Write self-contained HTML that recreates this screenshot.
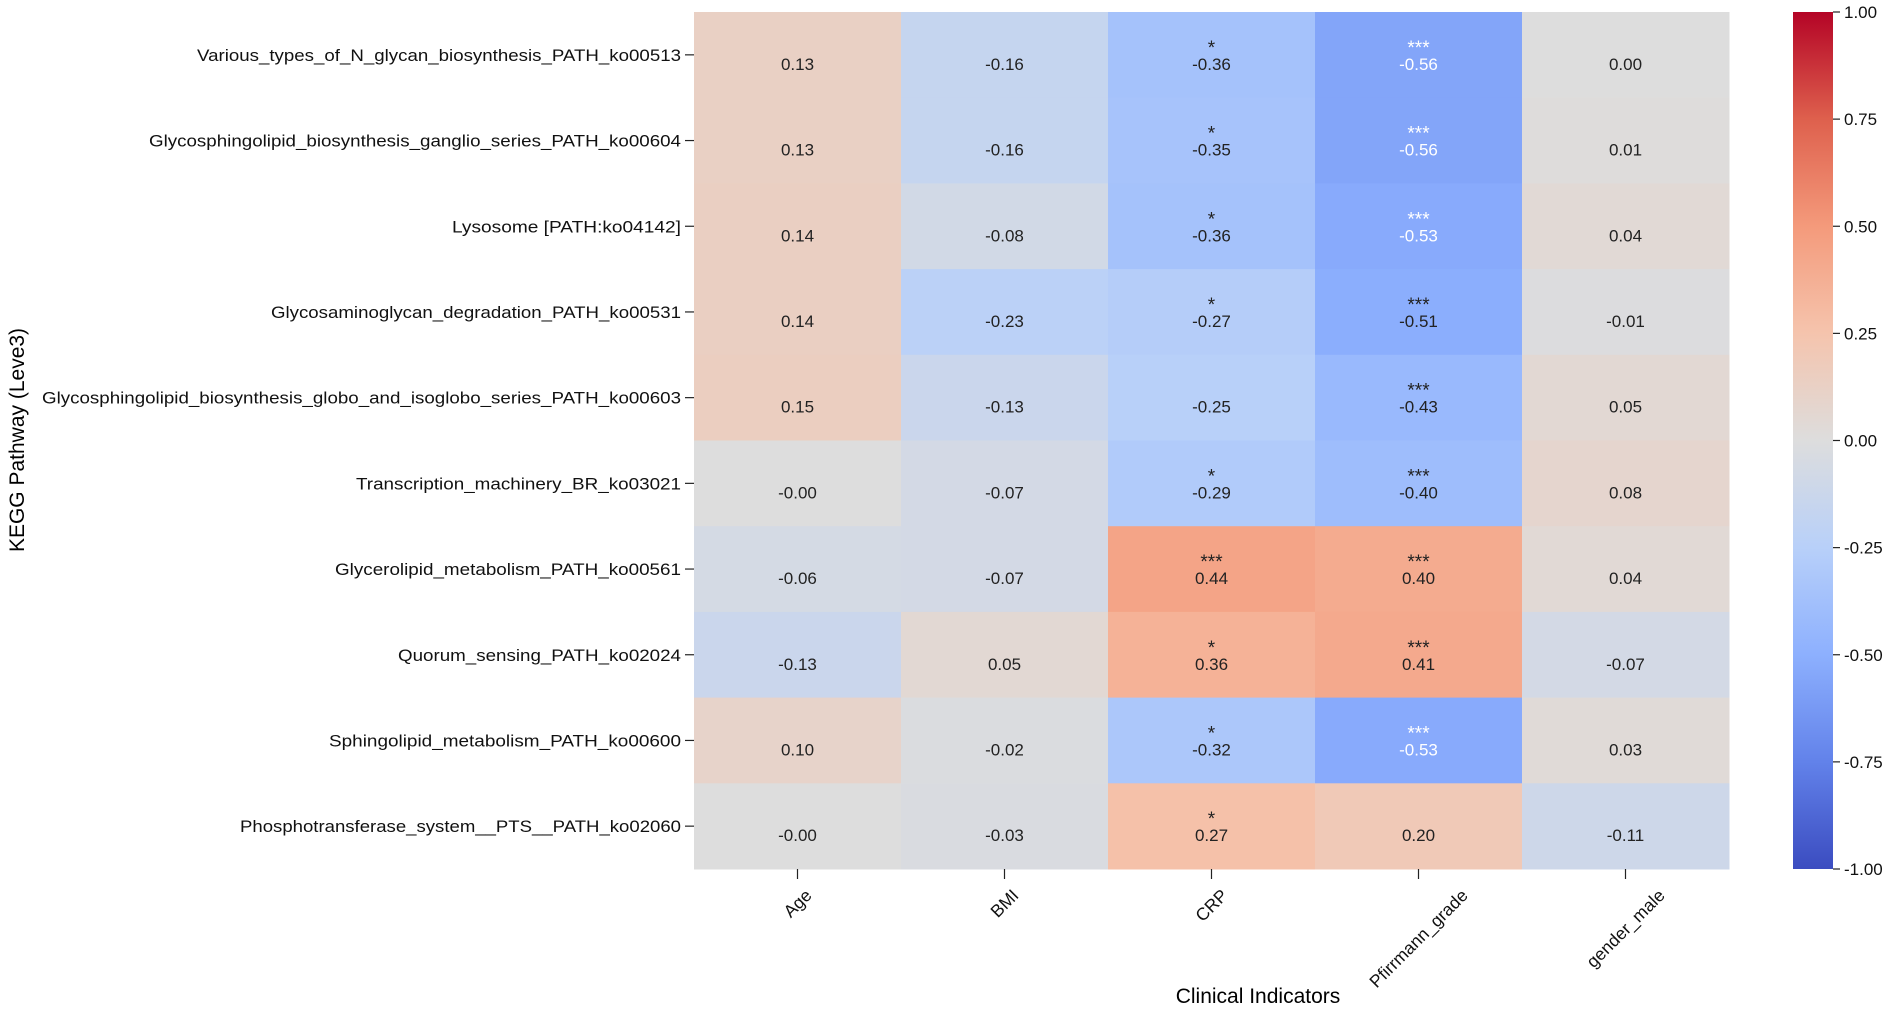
<!DOCTYPE html>
<html><head><meta charset="utf-8"><style>
html,body{margin:0;padding:0;background:#fff;}
svg{display:block;font-family:"Liberation Sans",sans-serif;}
</style></head><body>
<svg id="chart" width="1902" height="1011" viewBox="0 0 1902 1011" xmlns="http://www.w3.org/2000/svg">
<defs><linearGradient id="cbgrad" x1="0" y1="1" x2="0" y2="0">
<stop offset="0" stop-color="rgb(59,76,192)"/><stop offset="0.125" stop-color="rgb(98,130,234)"/><stop offset="0.25" stop-color="rgb(141,176,254)"/><stop offset="0.375" stop-color="rgb(184,208,249)"/><stop offset="0.5" stop-color="rgb(221,221,221)"/><stop offset="0.625" stop-color="rgb(245,196,173)"/><stop offset="0.75" stop-color="rgb(244,154,123)"/><stop offset="0.875" stop-color="rgb(222,96,77)"/><stop offset="1" stop-color="rgb(180,4,38)"/>
</linearGradient></defs>
<g id="cells"></g><g id="ylabels"></g><g id="xlabels"></g><g id="cbar"></g>
<text transform="translate(24,440) rotate(-90)" text-anchor="middle" font-size="21">KEGG Pathway (Leve3)</text>
<text x="1258" y="1003" text-anchor="middle" font-size="21">Clinical Indicators</text>
</svg>
<script>
const rowLabels = ["Various_types_of_N_glycan_biosynthesis_PATH_ko00513","Glycosphingolipid_biosynthesis_ganglio_series_PATH_ko00604","Lysosome [PATH:ko04142]","Glycosaminoglycan_degradation_PATH_ko00531","Glycosphingolipid_biosynthesis_globo_and_isoglobo_series_PATH_ko00603","Transcription_machinery_BR_ko03021","Glycerolipid_metabolism_PATH_ko00561","Quorum_sensing_PATH_ko02024","Sphingolipid_metabolism_PATH_ko00600","Phosphotransferase_system__PTS__PATH_ko02060"];
const colLabels = ["Age","BMI","CRP","Pfirrmann_grade","gender_male"];
const ageVals = [0.13,0.13,0.14,0.14,0.15,-0.00,-0.06,-0.13,0.10,-0.00];
const bmiVals = [-0.16,-0.16,-0.08,-0.23,-0.13,-0.07,-0.07,0.05,-0.02,-0.03];
const crpVals = [-0.36,-0.35,-0.36,-0.27,-0.25,-0.29,0.44,0.36,-0.32,0.27];
const pfirrmannVals = [-0.56,-0.56,-0.53,-0.51,-0.43,-0.40,0.40,0.41,-0.53,0.20];
const genderVals = [0.00,0.01,0.04,-0.01,0.05,0.08,0.04,-0.07,0.03,-0.11];
const crpStars = ["*","*","*","*","","*","***","*","*","*"];
const pfirrmannStars = ["***","***","***","***","***","***","***","***","***",""];
const colorbarTicks = [1,0.75,0.5,0.25,0,-0.25,-0.5,-0.75,-1];
const colorbarTickLabels = ["1.00","0.75","0.50","0.25","0.00","-0.25","-0.50","-0.75","-1.00"];

const seriesVals=[ageVals,bmiVals,crpVals,pfirrmannVals,genderVals];
const seriesStars=[null,null,crpStars,pfirrmannStars,null];
const labelWidths=[484,532,229,410,639,325,346,283,352,441];
const NS="http://www.w3.org/2000/svg";
const X0=694,X1=1729,Y0=12,Y1=869;
const cw=(X1-X0)/colLabels.length, rh=(Y1-Y0)/rowLabels.length;
const xPos=i=>X0+i*cw, yPos=j=>Y0+j*rh;
const CB_X=1793,CB_W=40;
const cbY=v=>Y0+(1-(v+1)/2)*(Y1-Y0);
const stops=[[59,76,192],[98,130,234],[141,176,254],[184,208,249],[221,221,221],[245,196,173],[244,154,123],[222,96,77],[180,4,38]];
function cmap(v){let t=(Math.max(-1,Math.min(1,v))+1)/2*8;let i=Math.min(7,Math.floor(t));let f=t-i;const a=stops[i],b=stops[i+1];return `rgb(${a.map((c,k)=>Math.round(c+(b[k]-c)*f)).join(",")})`;}
function fmt(v){const s=v.toFixed(2);return (Object.is(v,-0)||(v<0&&s==="0.00"))?"-0.00":s;}
function el(tag,attrs,parent,txt){const e=document.createElementNS(NS,tag);for(const k in attrs)e.setAttribute(k,attrs[k]);if(txt!==undefined)e.textContent=txt;parent.appendChild(e);return e;}
const cells=document.getElementById('cells');
seriesVals.forEach((vals,c)=>{vals.forEach((v,r)=>{
  const rect=el('rect',{x:xPos(c),y:yPos(r),width:cw+0.5,height:rh+0.5,fill:cmap(v)},cells);
  
  
  const col=v<=-0.52?'#fff':'#222';
  const t=el('text',{x:xPos(c)+cw/2,y:yPos(r)+rh/2+15,'text-anchor':'middle','font-size':17,fill:col},cells,fmt(v));
  
  
  const st=seriesStars[c];
  if(st&&st[r]){const s=el('text',{x:xPos(c)+cw/2,y:yPos(r)+rh/2-1,'text-anchor':'middle','font-size':19,fill:col},cells,st[r]);
    
    }
});});
const yl=document.getElementById('ylabels');
rowLabels.forEach((lab,r)=>{const cy=yPos(r)+rh/2;
  el('line',{x1:X0-9,x2:X0,y1:cy,y2:cy,stroke:'#222','stroke-width':1.2},yl);
  const t=el('text',{x:X0-13,y:cy+6,'text-anchor':'end','font-size':17,fill:'#111',textLength:labelWidths[r],lengthAdjust:'spacingAndGlyphs'},yl,lab);
  
  
});
const xl=document.getElementById('xlabels');
colLabels.forEach((lab,c)=>{const cx=xPos(c)+cw/2;
  el('line',{x1:cx,x2:cx,y1:Y1,y2:Y1+10,stroke:'#222','stroke-width':1.2},xl);
  const t=el('text',{'text-anchor':'middle','font-size':17.5,fill:'#111'},xl,lab);
  
  
  const L=t.getComputedTextLength();
  const h=(L+15)/Math.SQRT2;
  const cyy=Y1+18+h/2;
  t.setAttribute('transform',`translate(${cx},${cyy}) rotate(-45)`);
  t.setAttribute('y',6);
});
const cb=document.getElementById('cbar');
const bar=el('rect',{x:CB_X,y:Y0,width:CB_W,height:Y1-Y0,fill:'url(#cbgrad)'},cb);


colorbarTicks.forEach((v,i)=>{const y=cbY(v);
  el('line',{x1:CB_X+CB_W,x2:CB_X+CB_W+7,y1:y,y2:y,stroke:'#222','stroke-width':1.2},cb);
  const t=el('text',{x:CB_X+CB_W+11,y:y+6,'font-size':17,fill:'#111'},cb,colorbarTickLabels[i]);
  
  
});
</script>
</body></html>
